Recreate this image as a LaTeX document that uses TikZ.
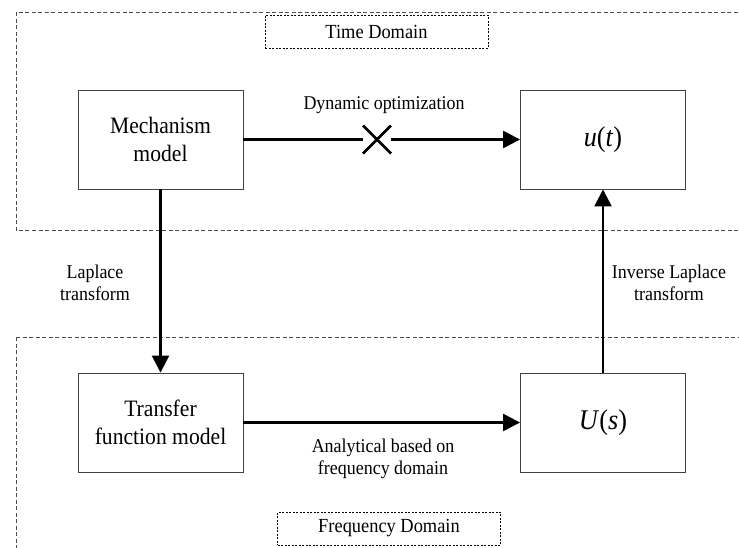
\documentclass[tikz,border=0pt]{standalone}
\usepackage{fontspec}
\setmainfont{Liberation Serif}[FakeStretch=0.92]
\usetikzlibrary{arrows.meta}
\begin{document}
\begin{tikzpicture}[x=1pt,y=-1pt,
  box/.style={draw=black!75, line width=0.9pt, minimum width=165pt, minimum height=99pt, inner sep=0pt, align=center, font=\fontsize{23.5}{28.5}\selectfont},
  mathbox/.style={box, font=\fontsize{28.5}{30}\selectfont},
  lbl/.style={align=center, font=\fontsize{19.5}{22}\selectfont, inner sep=0pt},
  domainbox/.style={draw, line width=0.9pt, dash pattern=on 2pt off 1.5pt, minimum width=223pt, minimum height=33pt, inner sep=0pt, font=\fontsize{20}{22}\selectfont},
  region/.style={draw=black!70, line width=0.8pt, dash pattern=on 4pt off 2.5pt},
  thick line/.style={line width=2.5pt},
  conn/.style={line width=2.5pt, -{Triangle[length=17pt,width=17pt]}},
]
\useasboundingbox (0,0) rectangle (739,547);
\clip (0,0) rectangle (739,547);
\draw[region] (16,12) rectangle (760,230);
\draw[region] (16,337) rectangle (760,570);

\node[domainbox] (td) at (376.5,31.5) {Time Domain};
\node[domainbox] (fd) at (389,528.5) {Frequency Domain};

\node[box] (mech) at (160.5,139.5) {Mechanism\\model};
\node[mathbox] (ut) at (603,139.5) {\textit{u}(\textit{t})};
\node[box] (tf) at (160.5,422.5) {Transfer\\function model};
\node[mathbox] (us) at (603,422.5) {\textit{U}(\textit{s})};

\coordinate (xm) at (377,139.5);
\coordinate (xl) at (363,139.5);
\coordinate (xr) at (391,139.5);
\draw[thick line] (mech.east) -- (xl);
\draw[conn] (xr) -- (ut.west);
\draw[thick line] ([shift={(-14,-14)}]xm) -- ([shift={(14,14)}]xm);
\draw[thick line] ([shift={(-14,14)}]xm) -- ([shift={(14,-14)}]xm);

\draw[conn] (mech.south) -- (tf.north);
\draw[conn] (us.north) -- (ut.south);
\draw[conn] (tf.east) -- (us.west);

\node[lbl] (dyn) at (384,105) {Dynamic optimization};
\node[lbl] (lap) at (95,283) {Laplace\\transform};
\node[lbl] (ilap) at (669,283) {Inverse Laplace\\transform};
\node[lbl] (ana) at (383,459) {Analytical based on\\frequency domain};
\end{tikzpicture}
\end{document}
